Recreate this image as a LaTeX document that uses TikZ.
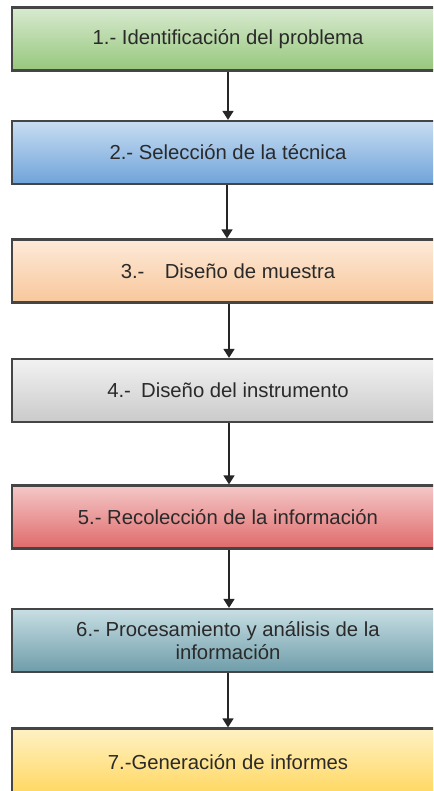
\documentclass[tikz,border=0pt]{standalone}
\usepackage{fontspec}
\setmainfont{Liberation Sans}
\usetikzlibrary{arrows.meta}
\definecolor{txt}{HTML}{2A2A2A}
\definecolor{edge}{HTML}{454545}
\definecolor{g1}{HTML}{D8EAD0}\definecolor{g2}{HTML}{96C77C}
\definecolor{b1c}{HTML}{C8DDF2}\definecolor{b2c}{HTML}{6FA3D9}
\definecolor{o1}{HTML}{FDEADA}\definecolor{o2}{HTML}{F8C79A}
\definecolor{s1}{HTML}{F2F2F2}\definecolor{s2}{HTML}{CACACA}
\definecolor{r1}{HTML}{F4C8C8}\definecolor{r2}{HTML}{E06A6A}
\definecolor{t1}{HTML}{C8DEE4}\definecolor{t2}{HTML}{6E9DA9}
\definecolor{y1}{HTML}{FFF1C4}\definecolor{y2}{HTML}{FFD75E}
\tikzset{
  stepbox/.style={rectangle, draw=edge, line width=2.2pt, minimum width=432pt, minimum height=63pt,
    inner sep=0pt, align=center, text=txt, font=\fontsize{20.3}{23}\selectfont},
  link/.style={draw=black!85, line width=1.5pt, -{Triangle[width=11pt,length=9pt]}}
}
\begin{document}
\begin{tikzpicture}[x=1pt,y=-1pt]
\useasboundingbox (0,0) rectangle (433,791);
\clip (0,0) rectangle (433,791);
\node[stepbox, top color=g1, bottom color=g2] (n1) at (228,39) {1.- Identificación del problema};
\node[stepbox, top color=b1c, bottom color=b2c] (n2) at (228,152.5) {2.- Selección de la técnica};
\node[stepbox, top color=o1, bottom color=o2] (n3) at (228,271) {3.-\quad Diseño de muestra};
\node[stepbox, top color=s1, bottom color=s2] (n4) at (228,390.5) {4.-\enspace Diseño del instrumento};
\node[stepbox, top color=r1, bottom color=r2] (n5) at (228,517) {5.- Recolección de la información};
\node[stepbox, top color=t1, bottom color=t2] (n6) at (228,640.5) {6.- Procesamiento y análisis de la\\información};
\node[stepbox, top color=y1, bottom color=y2, minimum height=67pt] (n7) at (228,762) {7.-Generación de informes};
\draw[link] (n1.south -| 228,0) -- (n2.north -| 228,0);
\draw[link] (n2.south -| 227,0) -- (n3.north -| 227,0);
\draw[link] (n3.south -| 229,0) -- (n4.north -| 229,0);
\draw[link] (n4.south -| 229,0) -- (n5.north -| 229,0);
\draw[link] (n5.south -| 229,0) -- (n6.north -| 229,0);
\draw[link] (n6.south -| 228,0) -- (n7.north -| 228,0);
\end{tikzpicture}
\end{document}
